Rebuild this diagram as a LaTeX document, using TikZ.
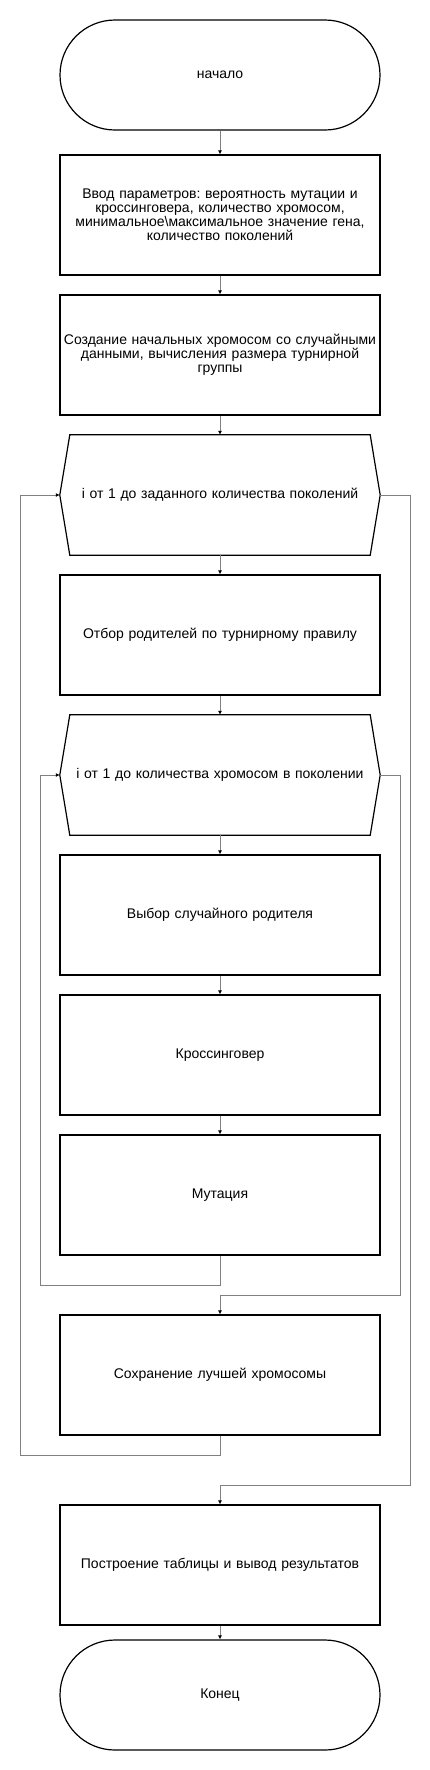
\documentclass[tikz,border=0pt]{standalone}
\usepackage{fontspec}
\setmainfont{Liberation Sans}
\usetikzlibrary{arrows.meta}
\frenchspacing
\tikzset{
  base/.style={minimum width=320pt, inner sep=1pt, text width=318pt, align=center,
    font=\fontsize{14}{14}\selectfont},
  proc/.style={base, draw=black, line width=1.2pt, minimum height=120pt},
  term/.style={base, draw=black, line width=1.2pt, minimum height=110pt, rounded corners=55pt},
  loopn/.style={base, draw=none, minimum height=120pt},
  hexline/.style={draw=black, line width=1.2pt},
  conn/.style={draw=gray, line width=1pt, -{Latex[black,length=4pt,width=4pt]}}
}
\begin{document}
\begin{tikzpicture}[x=1pt,y=-1pt]
\useasboundingbox (0,0) rectangle (430,1770);
\node[term] (start) at (220,75) {начало};
\node[proc] (b1) at (220,215) {Ввод параметров: вероятность мутации и\\кроссинговера, количество хромосом,\\минимальное\textbackslash{}максимальное значение гена,\\количество поколений};
\node[proc] (b2) at (220,355) {Создание начальных хромосом со случайными\\данными, вычисления размера турнирной\\группы};
\node[loopn] (h1) at (220,495) {i от 1 до заданного количества поколений};
\node[proc] (b3) at (220,635) {Отбор родителей по турнирному правилу};
\node[loopn] (h2) at (220,775) {i от 1 до количества хромосом в поколении};
\node[proc] (b4) at (220,915) {Выбор случайного родителя};
\node[proc] (b5) at (220,1055) {Кроссинговер};
\node[proc] (b6) at (220,1195) {Мутация};
\node[proc] (b7) at (220,1375) {Сохранение лучшей хромосомы};
\node[proc] (b8) at (220,1565) {Построение таблицы и вывод результатов};
\node[term] (end) at (220,1695) {Конец};

\foreach \h in {h1,h2}{
  \draw[hexline] (\h.west) -- ([xshift=10pt]\h.north west) -- ([xshift=-10pt]\h.north east)
    -- (\h.east) -- ([xshift=-10pt]\h.south east) -- ([xshift=10pt]\h.south west) -- cycle;
}

\draw[conn] (start) -- (b1);
\draw[conn] (b1) -- (b2);
\draw[conn] (b2) -- (h1);
\draw[conn] (h1) -- (b3);
\draw[conn] (b3) -- (h2);
\draw[conn] (h2) -- (b4);
\draw[conn] (b4) -- (b5);
\draw[conn] (b5) -- (b6);
\draw[conn] (b8) -- (end);

\coordinate (il1) at (220,1285);
\coordinate (il2) at (40,1285);
\coordinate (il3) at (40,775);
\draw[conn] (b6.south) -- (il1) -- (il2) -- (il3) -- (h2.west);

\coordinate (ir1) at (400,775);
\coordinate (ir2) at (400,1295);
\coordinate (ir3) at (220,1295);
\draw[conn] (h2.east) -- (ir1) -- (ir2) -- (ir3) -- (b7.north);

\coordinate (ol1) at (220,1455);
\coordinate (ol2) at (20,1455);
\coordinate (ol3) at (20,495);
\draw[conn] (b7.south) -- (ol1) -- (ol2) -- (ol3) -- (h1.west);

\coordinate (or1) at (410,495);
\coordinate (or2) at (410,1485);
\coordinate (or3) at (220,1485);
\draw[conn] (h1.east) -- (or1) -- (or2) -- (or3) -- (b8.north);
\end{tikzpicture}
\end{document}
